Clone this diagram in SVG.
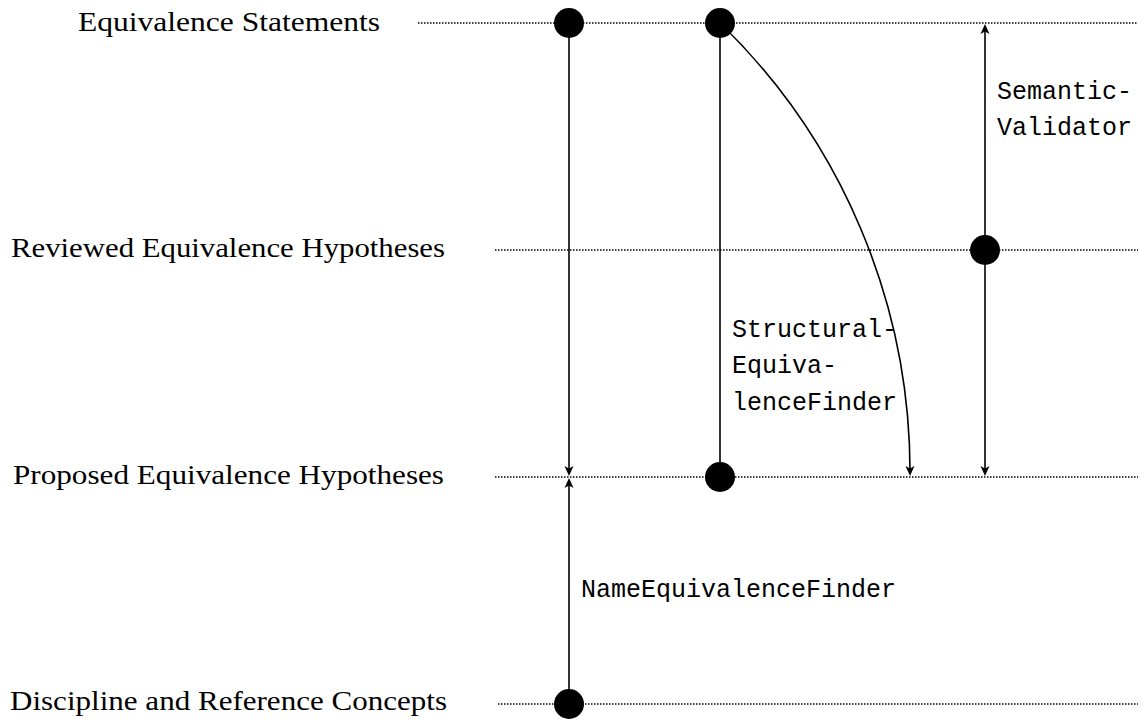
<svg xmlns="http://www.w3.org/2000/svg" width="1148" height="722" viewBox="0 0 1148 722">
<style>
.lbl{font-family:"Liberation Serif","Times New Roman",serif;font-size:27px;fill:#000}
.mono{font-family:"Liberation Mono","Courier New",monospace;font-size:25px;fill:#000}
.dot{stroke:#000;stroke-width:1.5;stroke-dasharray:1.5 1.5;fill:none}
.edge{stroke:#000;stroke-width:1.6;fill:none}
.node{fill:#000}
</style>
<defs>
<marker id="ah" viewBox="-12 -6 13 12" refX="-3" refY="0" markerWidth="13" markerHeight="12" markerUnits="userSpaceOnUse" orient="auto">
<path d="M0,0 L-10,-4.5 L-7.5,0 L-10,4.5 Z" fill="#000"/>
</marker>
</defs>
<g id="levels">
<g id="level-statements">
<text class="lbl" x="78" y="31" textLength="302" lengthAdjust="spacingAndGlyphs">Equivalence Statements</text>
<line class="dot" x1="418" y1="23" x2="1138" y2="23"/>
</g>
<g id="level-reviewed">
<text class="lbl" x="11" y="257" textLength="434" lengthAdjust="spacingAndGlyphs">Reviewed Equivalence Hypotheses</text>
<line class="dot" x1="495" y1="250" x2="1138" y2="250"/>
</g>
<g id="level-proposed">
<text class="lbl" x="13" y="484" textLength="431" lengthAdjust="spacingAndGlyphs">Proposed Equivalence Hypotheses</text>
<line class="dot" x1="495" y1="477" x2="1138" y2="477"/>
</g>
<g id="level-concepts">
<text class="lbl" x="10" y="710" textLength="437" lengthAdjust="spacingAndGlyphs">Discipline and Reference Concepts</text>
<line class="dot" x1="498" y1="704" x2="1138" y2="704"/>
</g>
</g>
<g id="connectors">
<path class="edge" d="M569,23 L569,473" marker-end="url(#ah)"/>
<path class="edge" d="M569,704 L569,481" marker-end="url(#ah)"/>
<path class="edge" d="M720,23 L720,477"/>
<path class="edge" d="M720,23 A625.5,625.5 0 0 1 910,473" marker-end="url(#ah)"/>
<path class="edge" d="M985,250 L985,27" marker-end="url(#ah)"/>
<path class="edge" d="M985,250 L985,473" marker-end="url(#ah)"/>
<text class="mono" x="997" y="99">Semantic-</text>
<text class="mono" x="997" y="135">Validator</text>
<text class="mono" x="732" y="337">Structural-</text>
<text class="mono" x="732" y="373">Equiva-</text>
<text class="mono" x="732" y="410">lenceFinder</text>
<text class="mono" x="581" y="597">NameEquivalenceFinder</text>
</g>
<g id="node-es1"><circle class="node" cx="569" cy="23" r="15"/></g>
<g id="node-es2"><circle class="node" cx="720" cy="23" r="15"/></g>
<g id="node-rev"><circle class="node" cx="985" cy="250" r="15"/></g>
<g id="node-prop"><circle class="node" cx="720" cy="477" r="15"/></g>
<g id="node-con"><circle class="node" cx="569" cy="704" r="15"/></g>
</svg>
